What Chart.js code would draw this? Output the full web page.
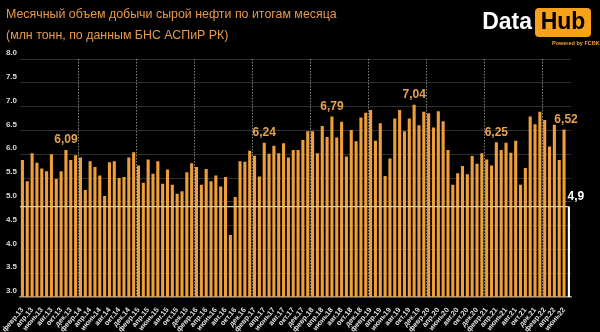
<!DOCTYPE html>
<html>
<head>
<meta charset="utf-8">
<script src="https://cdn.jsdelivr.net/npm/chart.js@4/dist/chart.umd.min.js"></script>
<style>
html, body { margin: 0; padding: 0; background: #000; }
#wrap { position: relative; width: 600px; height: 332px; overflow: hidden; background: #000; }
#chart { position: absolute; left: 0; top: 0; }
.title { position: absolute; left: 6px; color: #e8994a; font: 12.4px "Liberation Sans", Arial, sans-serif; white-space: nowrap; }
#logoData { position: absolute; right: 68px; top: 8px; color: #fff; font: bold 23px "Liberation Sans", Arial, sans-serif; }
#logoHub { position: absolute; left: 535px; top: 8px; width: 56px; height: 29px; line-height: 29px; text-align: center;
           background: #f7a21b; border-radius: 4px; color: #000; font: bold 23px "Liberation Sans", Arial, sans-serif; }
#logoSub { position: absolute; left: 552px; top: 40px; color: #f0a030; font: bold 5.5px "Liberation Sans", Arial, sans-serif; white-space: nowrap; }
</style>
</head>
<body>
<div id="wrap">
  <canvas id="chart" width="600" height="332"></canvas>
  <div class="title" style="top:7px">Месячный объем добычи сырой нефти по итогам месяца</div>
  <div class="title" style="top:28px">(млн тонн, по данным БНС АСПиР РК)</div>
  <div id="logoData">Data</div>
  <div id="logoHub">Hub</div>
  <div id="logoSub">Powered by FCBK</div>
</div>
<script>
// month names as in the source axis
const monthNames = ['янв.', 'февр.', 'март', 'апр.', 'май', 'июнь', 'июль', 'авг.', 'сент.', 'окт.', 'нояб.', 'дек.'];

// февр.13 .. июнь.22, then one extra slot (июль.22) for the forecast bar
const categories = [];
for (let yr = 13; yr <= 22; yr++) {
    for (let m = 0; m < 12; m++) {
        if (yr === 13 && m === 0) continue;
        if (yr === 22 && m > 6) break;
        categories.push(monthNames[m] + yr);
    }
}

// monthly crude oil output, mln t (февр.13 .. июнь.22)
const oilOutput = [
    5.88, 5.43, 6.02, 5.82, 5.70, 5.64, 6.00, 5.48, 5.64, 6.09, 5.88,
    5.98, 5.93, 5.25, 5.85, 5.73, 5.55, 5.12, 5.83, 5.85, 5.50, 5.52, 5.93,
    6.04, 5.76, 5.40, 5.89, 5.59, 5.85, 5.38, 5.68, 5.36, 5.17, 5.22, 5.62,
    5.81, 5.73, 5.36, 5.69, 5.43, 5.55, 5.32, 5.52, 4.30, 5.10, 5.85, 5.84,
    6.07, 5.97, 5.53, 6.24, 6.01, 6.18, 6.02, 6.23, 5.93, 6.09, 6.09, 6.30,
    6.48, 6.48, 6.02, 6.59, 6.36, 6.79, 6.35, 6.68, 5.95, 6.51, 6.27, 6.77,
    6.87, 6.93, 6.28, 6.65, 5.54, 5.91, 6.75, 6.93, 6.48, 6.75, 7.04, 6.61,
    6.89, 6.86, 6.56, 6.90, 6.69, 6.09, 5.36, 5.60, 5.75, 5.58, 5.96, 5.80,
    6.02, 5.89, 5.76, 6.25, 6.09, 6.24, 6.03, 6.28, 5.36, 5.71, 6.79, 6.63,
    6.89, 6.72, 6.16, 6.62, 5.88, 6.52
];

// forecast for the next month (white bar + reference line)
const forecastValue = 4.9;

// bars that carry a value label
const labeledIdx = [9, 50, 64, 81, 98, 112];

const yMin = 3.0, yMax = 8.0, yStep = 0.5;

const orangeData = oilOutput.concat([null]);
const forecastData = oilOutput.map(() => null).concat([forecastValue]);

const fmt = v => v.toFixed(2).replace('.', ',');

const overlayPlugin = {
    id: 'overlay',
    afterDatasetsDraw(chart) {
        const { ctx, chartArea, scales: { x, y } } = chart;
        ctx.save();

        // dotted lines at each year start (between янв. and февр.)
        ctx.strokeStyle = 'rgba(150,150,150,0.85)';
        ctx.lineWidth = 1;
        ctx.setLineDash([1.5, 1.5]);
        categories.forEach((c, i) => {
            if (!c.startsWith('янв.')) return;
            const px = Math.round((x.getPixelForValue(i) + x.getPixelForValue(i + 1)) / 2) + 0.5;
            ctx.beginPath();
            ctx.moveTo(px, chartArea.top);
            ctx.lineTo(px, chartArea.bottom);
            ctx.stroke();
        });
        ctx.setLineDash([]);

        // forecast reference line
        const lastIdx = categories.length - 1;
        const refY = y.getPixelForValue(forecastValue);
        ctx.strokeStyle = '#e8cc9e';
        ctx.lineWidth = 1.3;
        ctx.beginPath();
        ctx.moveTo(chartArea.left, refY);
        ctx.lineTo(x.getPixelForValue(lastIdx), refY);
        ctx.stroke();

        // value labels
        ctx.font = 'bold 12px "Liberation Sans", Arial, sans-serif';
        ctx.textAlign = 'center';
        ctx.textBaseline = 'middle';
        ctx.fillStyle = '#e8a24e';
        labeledIdx.forEach(i => {
            const px = x.getPixelForValue(i) + (i === oilOutput.length - 1 ? 2 : 0);
            ctx.fillText(fmt(oilOutput[i]), px, y.getPixelForValue(oilOutput[i]) - 10);
        });
        ctx.fillStyle = '#ffffff';
        ctx.fillText(String(forecastValue).replace('.', ','), x.getPixelForValue(lastIdx) + 7, refY - 10);

        ctx.restore();
    }
};

new Chart(document.getElementById('chart'), {
    type: 'bar',
    data: {
        labels: categories,
        datasets: [
            {
                data: orangeData,
                backgroundColor: '#ee9f3a',
                borderWidth: 0,
                categoryPercentage: 1,
                barPercentage: 0.64,
                grouped: false
            },
            {
                data: forecastData,
                backgroundColor: '#ffffff',
                borderWidth: 0,
                categoryPercentage: 1,
                barPercentage: 0.45,
                grouped: false
            }
        ]
    },
    options: {
        responsive: false,
        animation: false,
        layout: { padding: { top: 59, right: 28.7, left: 0, bottom: 0 } },
        plugins: { legend: { display: false }, tooltip: { enabled: false } },
        scales: {
            x: {
                offset: true,
                grid: { display: false },
                border: { display: true, color: '#8c8c8c', width: 1.5 },
                ticks: {
                    autoSkip: false,
                    maxRotation: 50,
                    minRotation: 50,
                    padding: 1,
                    color: '#e2e2e2',
                    font: { family: '"Liberation Sans", Arial, sans-serif', size: 7.2, weight: 'bold' },
                    callback: (v, i) => (i % 2 === 0 && i < oilOutput.length) ? categories[i] : ''
                },
                afterFit(scale) {
                    scale.height = 35;
                    scale.paddingLeft = 0;
                    scale.paddingRight = 0;
                }
            },
            y: {
                min: yMin,
                max: yMax,
                border: { display: false },
                grid: { color: '#2f2f2f', lineWidth: 1, drawTicks: false },
                ticks: {
                    stepSize: yStep,
                    padding: 3,
                    labelOffset: -6,
                    color: '#d8d8d8',
                    font: { family: '"Liberation Sans", Arial, sans-serif', size: 8, weight: 'bold' },
                    callback: v => v.toFixed(1)
                },
                afterFit(scale) { scale.width = 20; }
            }
        }
    },
    plugins: [overlayPlugin]
});
</script>
</body>
</html>
